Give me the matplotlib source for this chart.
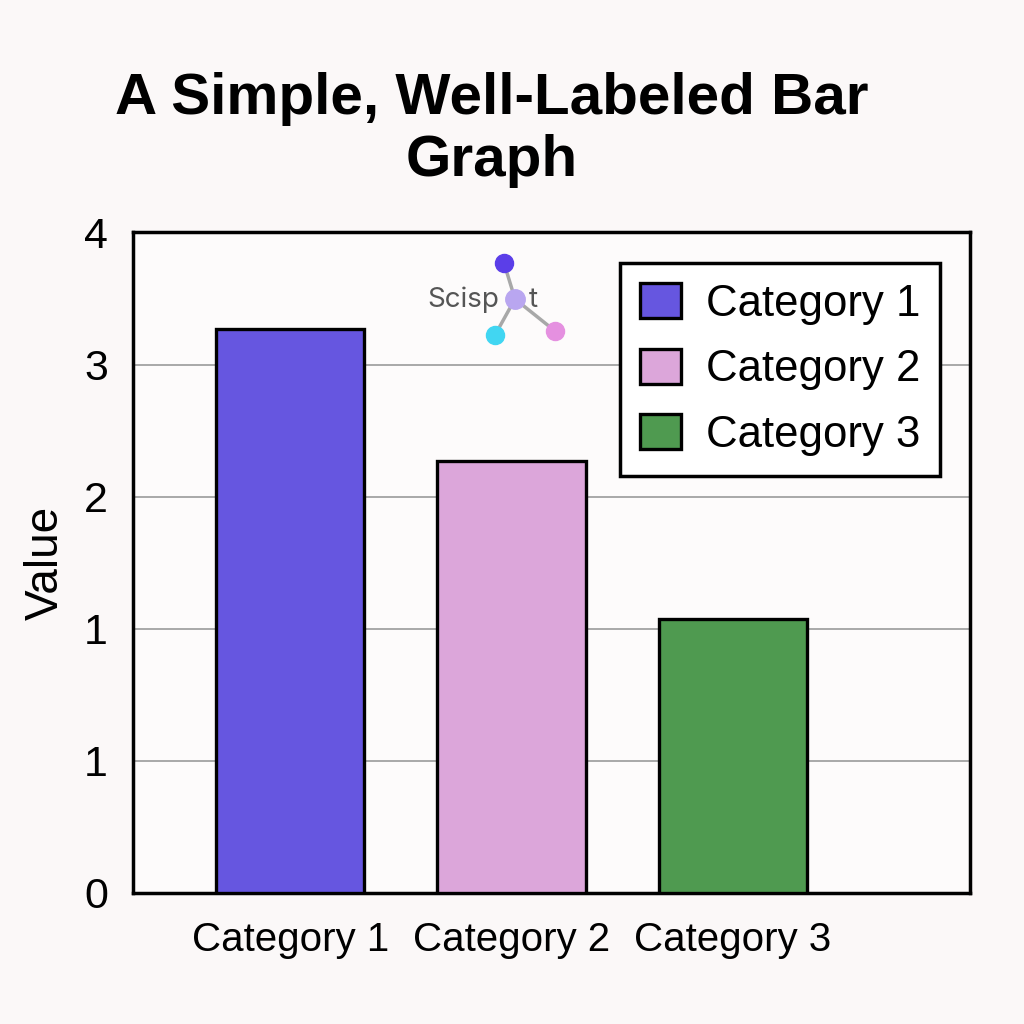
import matplotlib.pyplot as plt
from matplotlib.patches import Patch

# data (values read in gridline units, labels as printed on the axis)
categories = ["Category 1", "Category 2", "Category 3"]
values = [4.27, 3.27, 2.07]
colors = ["#6656e0", "#dca6da", "#4f9a50"]
ytick_pos = [0, 1, 2, 3, 4, 5]
ytick_labels = ["0", "1", "1", "2", "3", "4"]

plt.rcParams['font.family'] = ['Liberation Sans', 'DejaVu Sans']

bg = "#fbf8f8"
fig = plt.figure(figsize=(10.24, 10.24), dpi=100, facecolor=bg)
ax = fig.add_axes([0.130, 0.128, 0.817, 0.645], facecolor="#fdfbfb")

x = list(range(len(categories)))
ax.bar(x, values, width=0.67, color=colors, edgecolor="black", linewidth=2.4, zorder=3)

ax.set_xlim(-0.71, 3.07)
ax.set_ylim(0, 5)
ax.set_yticks(ytick_pos)
ax.set_yticklabels(ytick_labels, fontsize=31)
ax.set_xticks(x)
ax.set_xticklabels(categories, fontsize=29)
ax.tick_params(axis='both', length=0)
ax.tick_params(axis='y', pad=18)
ax.tick_params(axis='x', pad=20)
ax.yaxis.grid(True, color="#9a9a9a", linewidth=1.2, zorder=0)
for s in ax.spines.values():
    s.set_linewidth(2.5)
    s.set_color("black")

ax.set_ylabel("Value", fontsize=33, labelpad=12)

fig.text(0.480, 0.873, "A Simple, Well-Labeled Bar\nGraph", ha="center", va="center",
         fontsize=42, fontweight="bold", linespacing=1.2)

handles = [Patch(facecolor=c, edgecolor="black", linewidth=2.4) for c in colors]
leg = ax.legend(handles, categories, loc="upper right", bbox_to_anchor=(0.964, 0.953),
                borderaxespad=0, fontsize=31.5, frameon=True, fancybox=False, framealpha=1,
                edgecolor="black", handlelength=0.95, handleheight=0.85,
                handletextpad=0.55, labelspacing=0.55, borderpad=0.45)
leg.get_frame().set_linewidth(2.5)
leg.get_frame().set_facecolor("white")

# watermark
fig.text(427 / 1024, 1 - 307 / 1024, "Scisp", fontsize=20, color="#555555", va="baseline", family="Inter")
fig.text(529 / 1024, 1 - 307 / 1024, "t", fontsize=20, color="#555555", va="baseline", family="Inter")
cx, cy = 515 / 1024, 1 - 299 / 1024
for px, py, c in [(504, 263, "#5b3ee8"), (495, 335, "#41d6f2"), (555, 331, "#e590e0")]:
    fx, fy = px / 1024, 1 - py / 1024
    fig.add_artist(plt.Line2D([cx, fx], [cy, fy], color="#a8a8a8", linewidth=2.5, transform=fig.transFigure, zorder=5))
    fig.add_artist(plt.Line2D([fx], [fy], marker="o", markersize=13, color=c, transform=fig.transFigure, zorder=6))
fig.add_artist(plt.Line2D([cx], [cy], marker="o", markersize=14, color="#b9a6f0", transform=fig.transFigure, zorder=6))

fig.savefig("out.png", dpi=100, facecolor=bg)
